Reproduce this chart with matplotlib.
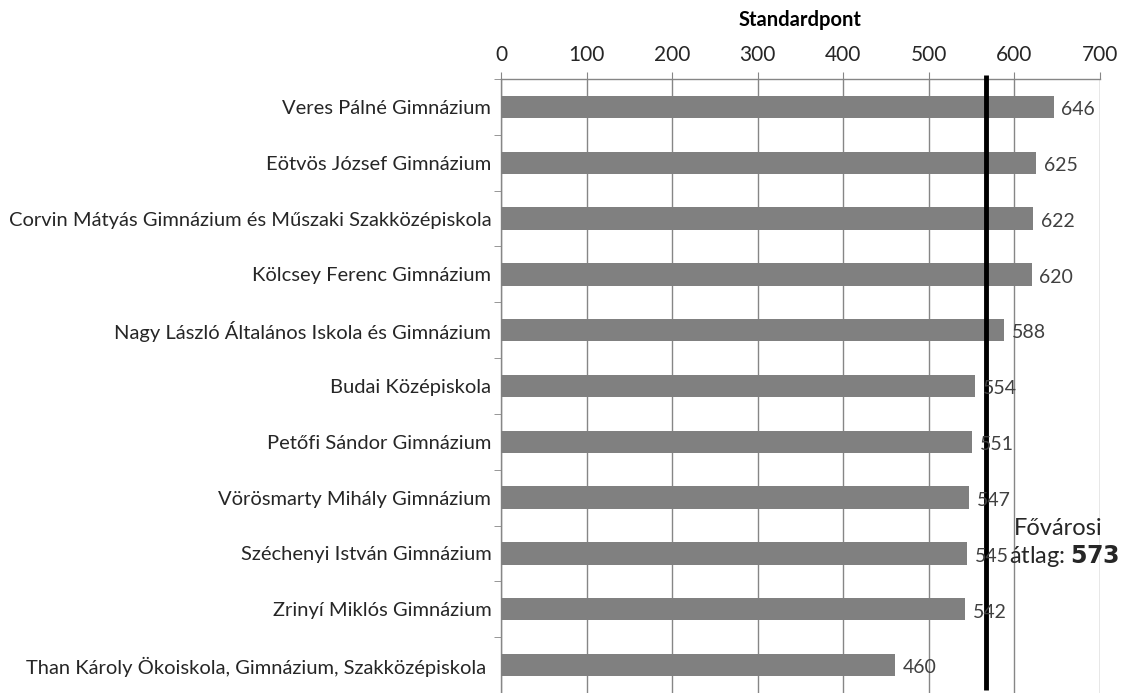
import matplotlib
matplotlib.use("Agg")
import matplotlib.pyplot as plt
import numpy as np

schools = [
    "Veres Pálné Gimnázium",
    "Eötvös József Gimnázium",
    "Corvin Mátyás Gimnázium és Műszaki Szakközépiskola",
    "Kölcsey Ferenc Gimnázium",
    "Nagy László Általános Iskola és Gimnázium",
    "Budai Középiskola",
    "Petőfi Sándor Gimnázium",
    "Vörösmarty Mihály Gimnázium",
    "Széchenyi István Gimnázium",
    "Zrinyí Miklós Gimnázium",
    "Than Károly Ökoiskola, Gimnázium, Szakközépiskola ",
]
scores = [646, 625, 622, 620, 588, 554, 551, 547, 545, 542, 460]
avg_label_value = 573
avg_line_pos = 567  # position of the drawn line
xticks = [0, 100, 200, 300, 400, 500, 600, 700]

plt.rcParams['font.family'] = ['Lato', 'DejaVu Sans']

fig = plt.figure(figsize=(11.24, 6.93), dpi=100)
ax = fig.add_axes([501/1124, 0.0, (1100-501)/1124, (693-79)/693])

y = np.arange(len(schools))
ax.barh(y, scores, height=0.4, color='#808080', zorder=3)
ax.set_ylim(len(schools) - 0.5, -0.5)
ax.set_xlim(0, 700)

ax.set_yticks(y)
ax.set_yticklabels(schools, fontsize=14.5, color='#262626')
ax.set_yticks(np.arange(len(schools) + 1) - 0.5, minor=True)
ax.tick_params(axis='y', which='major', length=0, pad=7)
ax.tick_params(axis='y', which='minor', length=5, color='#868686', direction='out')

ax.xaxis.tick_top()
ax.xaxis.set_label_position('top')
ax.set_xticks(xticks)
ax.set_xticklabels([str(t) for t in xticks], fontsize=15, color='#262626')
ax.tick_params(axis='x', length=5, color='#868686', pad=5)
ax.set_xlabel('Standardpont', fontsize=14.5, fontweight='bold', labelpad=14, color='#000000')

ax.grid(axis='x', color='#868686', linewidth=1.0, zorder=0)
for s in ['bottom', 'right']:
    ax.spines[s].set_visible(False)
for s in ['top', 'left']:
    ax.spines[s].set_color('#868686')
    ax.spines[s].set_linewidth(1.0)

for yi, v in zip(y, scores):
    ax.text(v + 9, yi + 0.05, str(v), va='center', ha='left', fontsize=14, color='#404040', zorder=5)

ax.plot([avg_line_pos, avg_line_pos], [len(schools) - 0.55, -0.57], color='black',
        linewidth=3.5, zorder=4, clip_on=False, solid_capstyle='butt')

ax.text(651, 7.55, 'Fővárosi', ha='center', va='center', fontsize=17, color='#262626', zorder=6,
        clip_on=False)
ax.text(658, 8.05, 'átlag: $\\mathbf{573}$', ha='center', va='center', fontsize=17, color='#262626', zorder=6,
        clip_on=False)

fig.savefig('out.png', dpi=100)
